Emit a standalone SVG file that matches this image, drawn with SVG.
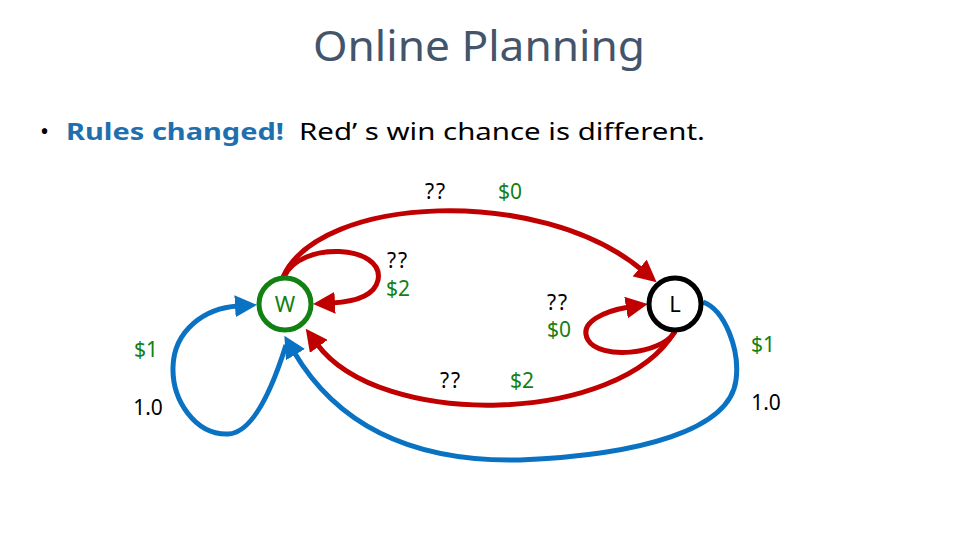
<svg xmlns="http://www.w3.org/2000/svg" width="960" height="540" viewBox="0 0 960 540">
<style>
.t{font-family:"Noto Sans","Open Sans","DejaVu Sans",sans-serif}
.lbl{font-size:21px}
.k{fill:#000}
.g{fill:#128012}
.red{fill:none;stroke:#C00000;stroke-width:5}
.blue{fill:none;stroke:#0A72C2;stroke-width:5}
</style>
<defs>
<marker id="ar" viewBox="0 0 22 22" markerUnits="userSpaceOnUse" markerWidth="22" markerHeight="22" refX="3" refY="11" orient="auto"><path d="M0,0 L22,11 L0,22 z" fill="#C00000"/></marker>
<marker id="ab" viewBox="0 0 22 22" markerUnits="userSpaceOnUse" markerWidth="22" markerHeight="22" refX="3" refY="11" orient="auto"><path d="M0,0 L22,11 L0,22 z" fill="#0A72C2"/></marker>
</defs>
<rect width="960" height="540" fill="#fff"/>
<text class="t" x="313" y="61" font-size="42" fill="#44546A" textLength="332" lengthAdjust="spacingAndGlyphs">Online Planning</text>
<text class="t" x="40" y="140" font-size="24" fill="#000">•</text>
<text class="t" x="66" y="140" font-size="24" font-weight="bold" fill="#1F6FAE" textLength="218" lengthAdjust="spacingAndGlyphs">Rules changed!</text>
<text class="t" x="299" y="140" font-size="24" fill="#000" textLength="406" lengthAdjust="spacingAndGlyphs">Red’ s win chance is different.</text>
<g id="connectors">
<path class="red" d="M283 277 C320 195 540 185 642 270" marker-end="url(#ar)"/>
<path class="red" d="M284 277 C300 240 385 245 378 280 C374 298 350 302 332 303" marker-end="url(#ar)"/>
<path class="red" d="M675 331 C620 425 380 430 317 344" marker-end="url(#ar)"/>
<path class="red" d="M675 332 C660 355 600 360 588 340 C578 322 605 311 629 307" marker-end="url(#ar)"/>
<path class="blue" d="M286 345 C275 380 255 433 228 434 C195 435 172 400 173 367 C174 330 205 308 238 306" marker-end="url(#ab)"/>
<path class="blue" d="M703 302 C725 310 740 350 736 380 C730 430 640 455 520 460 C420 462 340 430 294 352" marker-end="url(#ab)"/>
</g>
<g id="W">
<circle cx="285" cy="304" r="26" fill="#fff" stroke="#128012" stroke-width="5"/>
<text class="t" x="285" y="312" font-size="22" fill="#128012" text-anchor="middle">W</text>
</g>
<g id="L">
<circle cx="675" cy="304" r="26" fill="#fff" stroke="#000" stroke-width="5"/>
<text class="t" x="675" y="312" font-size="22" fill="#000" text-anchor="middle">L</text>
</g>
<g id="labels">
<text class="t lbl k" x="436" y="199" text-anchor="middle" letter-spacing="2">??</text>
<text class="t lbl g" x="510" y="199" text-anchor="middle">$0</text>
<text class="t lbl k" x="398" y="268" text-anchor="middle" letter-spacing="2">??</text>
<text class="t lbl g" x="398" y="296" text-anchor="middle">$2</text>
<text class="t lbl k" x="558" y="310" text-anchor="middle" letter-spacing="2">??</text>
<text class="t lbl g" x="559" y="337" text-anchor="middle">$0</text>
<text class="t lbl g" x="146" y="357" text-anchor="middle">$1</text>
<text class="t lbl k" x="148" y="415" text-anchor="middle">1.0</text>
<text class="t lbl k" x="451" y="388" text-anchor="middle" letter-spacing="2">??</text>
<text class="t lbl g" x="522" y="388" text-anchor="middle">$2</text>
<text class="t lbl g" x="763" y="352" text-anchor="middle">$1</text>
<text class="t lbl k" x="766" y="410" text-anchor="middle">1.0</text>
</g>
</svg>
